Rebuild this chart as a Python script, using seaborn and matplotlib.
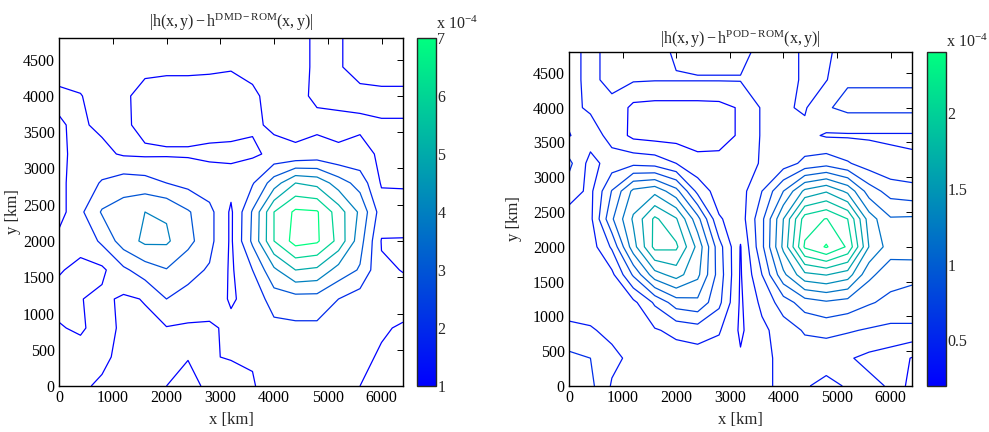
import numpy as np
import matplotlib
matplotlib.use("Agg")
import matplotlib.pyplot as plt
import seaborn as sns

# grid coordinates (km)
x_km = [0, 400, 800, 1200, 1600, 2000, 2400, 2800, 3200, 3600, 4000, 4400, 4800, 5200, 5600, 6000, 6400]
y_km = [0, 400, 800, 1200, 1600, 2000, 2400, 2800, 3200, 3600, 4000, 4400, 4800]

# |h - h_DMD-ROM| (x 1e-4), rows listed from y=4800 (top) down to y=0
dmd_rows = [
    [0.8, 0.8, 0.8, 0.75, 0.7, 0.7, 0.7, 0.7, 0.75, 0.8, 0.8, 0.8, 1.1, 1.05, 0.8, 0.8, 0.8],
    [0.8, 0.8, 0.75, 0.7, 0.8, 0.85, 0.85, 0.9, 0.95, 0.85, 0.8, 0.8, 1.1, 1.05, 0.8, 0.8, 0.8],
    [1.1, 1.02, 0.8, 0.85, 1.3, 1.35, 1.35, 1.3, 1.3, 1.1, 0.8, 0.85, 1.1, 1.15, 1.15, 1.1, 1.1],
    [0.95, 1.1, 0.85, 0.85, 1.25, 1.3, 1.3, 1.25, 1.2, 1.1, 0.9, 0.85, 0.85, 0.85, 0.9, 0.97, 0.97],
    [0.8, 1.3, 1.2, 0.9, 0.85, 0.9, 0.9, 0.85, 0.85, 0.85, 1.2, 1.1, 1.3, 1.1, 1.2, 0.9, 0.85],
    [0.8, 1.4, 2.1, 2.5, 2.4, 2.0, 1.7, 1.4, 1.3, 1.9, 3.5, 5.0, 4.7, 3.5, 2.6, 0.9, 0.9],
    [0.6, 1.8, 3.1, 3.5, 4.0, 3.9, 3.1, 2.3, 0.85, 3.1, 6.0, 7.2, 7.1, 5.5, 3.8, 1.5, 1.4],
    [1.3, 1.2, 2.2, 3.5, 4.2, 4.15, 3.3, 2.3, 0.85, 3.2, 6.0, 7.4, 7.15, 5.7, 3.4, 0.95, 0.95],
    [1.05, 0.85, 0.8, 1.8, 2.5, 2.95, 2.3, 1.9, 0.85, 2.0, 3.8, 5.0, 4.8, 3.6, 2.9, 1.1, 0.98],
    [0.8, 0.97, 1.2, 0.85, 1.05, 2.0, 1.7, 1.5, 0.9, 1.3, 2.5, 2.6, 2.6, 2.0, 1.5, 1.3, 1.2],
    [1.05, 0.9, 1.3, 0.85, 0.8, 0.95, 0.85, 0.85, 1.2, 1.3, 1.7, 1.8, 1.8, 1.7, 1.4, 1.05, 0.95],
    [1.2, 1.3, 1.15, 0.8, 0.75, 0.8, 0.98, 0.98, 1.02, 1.05, 1.4, 1.5, 1.5, 1.4, 1.1, 0.95, 0.9],
    [1.2, 1.1, 0.9, 0.7, 0.7, 1.0, 1.15, 0.9, 0.85, 0.95, 1.3, 1.4, 1.4, 1.2, 1.0, 0.95, 0.9],
]

# |h - h_POD-ROM| (x 1e-4), rows listed from y=4800 (top) down to y=0
pod_rows = [
    [0.45, 0.36, 0.45, 0.45, 0.45, 0.38, 0.35, 0.35, 0.35, 0.45, 0.45, 0.38, 0.38, 0.45, 0.45, 0.45, 0.45],
    [0.45, 0.36, 0.45, 0.42, 0.41, 0.41, 0.41, 0.41, 0.41, 0.42, 0.45, 0.38, 0.39, 0.58, 0.58, 0.58, 0.58],
    [0.45, 0.37, 0.35, 0.15, 0.13, 0.13, 0.13, 0.14, 0.22, 0.42, 0.42, 0.38, 0.58, 0.65, 0.65, 0.65, 0.65],
    [0.39, 0.5, 0.33, 0.15, 0.12, 0.12, 0.13, 0.14, 0.22, 0.42, 0.45, 0.45, 0.38, 0.38, 0.38, 0.38, 0.38],
    [0.65, 0.33, 0.49, 0.55, 0.52, 0.4, 0.25, 0.25, 0.3, 0.42, 0.5, 0.65, 0.72, 0.62, 0.5, 0.44, 0.42],
    [0.5, 0.35, 0.81, 1.25, 1.34, 1.07, 0.54, 0.3, 0.32, 0.6, 1.0, 1.45, 1.58, 1.35, 0.9, 0.72, 0.68],
    [0.3, 0.35, 0.97, 1.43, 1.84, 1.62, 1.07, 0.42, 0.3, 0.75, 1.4, 2.1, 2.21, 2.0, 1.3, 1.02, 1.03],
    [0.25, 0.3, 0.63, 1.32, 1.86, 1.84, 1.34, 0.68, 0.19, 0.75, 1.45, 2.23, 2.42, 2.17, 1.39, 1.1, 1.15],
    [0.3, 0.28, 0.35, 0.83, 1.32, 1.48, 1.25, 0.71, 0.18, 0.6, 1.15, 1.55, 1.61, 1.5, 1.05, 0.88, 0.83],
    [0.3, 0.3, 0.28, 0.35, 0.63, 0.9, 0.95, 0.65, 0.17, 0.45, 0.7, 0.9, 0.97, 0.92, 0.82, 0.75, 0.75],
    [0.45, 0.42, 0.35, 0.28, 0.38, 0.45, 0.5, 0.42, 0.17, 0.35, 0.5, 0.62, 0.66, 0.62, 0.58, 0.55, 0.55],
    [0.65, 0.6, 0.45, 0.35, 0.3, 0.3, 0.3, 0.3, 0.22, 0.35, 0.45, 0.5, 0.45, 0.42, 0.35, 0.3, 0.19],
    [0.7, 0.65, 0.38, 0.3, 0.3, 0.3, 0.35, 0.38, 0.3, 0.35, 0.45, 0.41, 0.37, 0.41, 0.45, 0.38, 0.12],
]

dmd_levels = [1, 2, 3, 4, 5, 6, 7]
pod_levels = [0.2, 0.4, 0.6, 0.8, 1.0, 1.2, 1.4, 1.6, 1.8, 2.0, 2.2, 2.4]
dmd_cticks = [1, 2, 3, 4, 5, 6, 7]
pod_cticks = [0.5, 1, 1.5, 2]
pod_cticklabels = ["0.5", "1", "1.5", "2"]
x_ticks = [0, 1000, 2000, 3000, 4000, 5000, 6000]
y_ticks = [0, 500, 1000, 1500, 2000, 2500, 3000, 3500, 4000, 4500]

sns.set_style("white")
plt.rcParams["font.family"] = ["Liberation Serif", "DejaVu Serif"]
plt.rcParams["mathtext.fontset"] = "custom"
plt.rcParams["mathtext.rm"] = "Liberation Serif"
plt.rcParams["mathtext.it"] = "Liberation Serif:italic"
plt.rcParams["axes.unicode_minus"] = True

cmap = sns.color_palette("winter", as_cmap=True)

W, H = 989, 432
fig = plt.figure(figsize=(W / 100, H / 100), dpi=100)
fig.patch.set_facecolor("white")


def frac(x0, y0, x1, y1):
    return [x0 / W, 1 - y1 / H, (x1 - x0) / W, (y1 - y0) / H]


def panel(ax_rect, cb_rect, rows, levels, vmin, vmax, cticks, cticklabels, title, title_y,
          exp_xy, ylab_x):
    ax = fig.add_axes(frac(*ax_rect))
    cax = fig.add_axes(frac(*cb_rect))
    Z = np.array(rows[::-1], dtype=float)
    Xg, Yg = np.meshgrid(x_km, y_km)
    norm = matplotlib.colors.Normalize(vmin=vmin, vmax=vmax)
    ax.contour(Xg, Yg, Z, levels=levels, cmap=cmap, norm=norm, linewidths=0.9)
    ax.set_xlim(0, 6400)
    ax.set_ylim(0, 4800)
    ax.set_xticks(x_ticks)
    ax.set_yticks(y_ticks)
    ax.tick_params(direction="in", length=4, width=0.7, top=True, right=True,
                   labelsize=11.5, pad=3, colors="black")
    for s in ax.spines.values():
        s.set_linewidth(1.0)
        s.set_color("black")
    ax.set_xlabel("x [km]", fontsize=12)
    ax.set_ylabel("y [km]", fontsize=12)
    axw = ax_rect[2] - ax_rect[0]
    axh = ax_rect[3] - ax_rect[1]
    ax.xaxis.set_label_coords(0.5, -(420 - ax_rect[3]) / axh, transform=ax.transAxes)
    ax.yaxis.set_label_coords((ylab_x - ax_rect[0]) / axw, 0.5, transform=ax.transAxes)
    ax.xaxis.label.set_va("center")
    ax.yaxis.label.set_va("center")
    fig.text((ax_rect[0] + ax_rect[2]) / 2 / W, 1 - title_y / H, title,
             ha="center", va="baseline", fontsize=11.5)
    sm = matplotlib.cm.ScalarMappable(norm=norm, cmap=cmap)
    cb = fig.colorbar(sm, cax=cax)
    cb.set_ticks(cticks)
    cb.set_ticklabels(cticklabels)
    cb.ax.tick_params(direction="in", length=3, width=0.7, labelsize=11.5, pad=1,
                      left=True, right=True)
    cb.outline.set_linewidth(1.0)
    fig.text(exp_xy[0] / W, 1 - exp_xy[1] / H, r"x 10$^{-4}$", ha="left", va="baseline",
             fontsize=11.5)
    return ax


panel((59, 38, 403, 386), (417, 38, 436, 386), dmd_rows, dmd_levels, 1, 7,
      dmd_cticks, [str(t) for t in dmd_cticks],
      r"$|\mathrm{h(x,y)}-\mathrm{h}^{\mathrm{DMD-ROM}}\mathrm{(x,y)}|$", 27, (436, 29), 13)
panel((569, 52, 912, 386), (927, 52, 946, 386), pod_rows, pod_levels, 0.2, 2.4,
      pod_cticks, pod_cticklabels,
      r"$|\mathrm{h(x,y)}-\mathrm{h}^{\mathrm{POD-ROM}}\mathrm{(x,y)}|$", 44, (946, 47), 514)

fig.savefig("out.png", dpi=100, facecolor="white")
